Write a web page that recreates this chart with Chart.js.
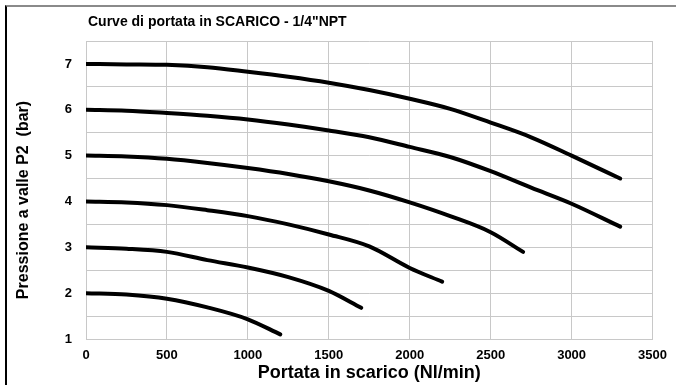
<!DOCTYPE html>
<html>
<head>
<meta charset="utf-8">
<script src="https://cdn.jsdelivr.net/npm/chart.js@4"></script>
<style>
  html, body { margin: 0; padding: 0; background: #fff; }
  #frame {
    position: absolute; left: 5px; top: 5px; width: 671px; height: 380px;
    border-top: 2px solid #8a8a8a; border-left: 2px solid #000; box-sizing: border-box;
  }
  #wrap { position: absolute; left: 0; top: 0; width: 676px; height: 385px; }
</style>
</head>
<body>
<div id="frame"></div>
<div id="wrap"><canvas id="myChart" width="676" height="385"></canvas></div>
<script>
// flow (Nl/min) and downstream pressure (bar) for each set pressure
const q7 = [0, 250, 500, 750, 1000, 1250, 1500, 1750, 2000, 2250, 2500, 2750, 3000, 3300];
const p7 = [7.0, 6.99, 6.98, 6.93, 6.83, 6.72, 6.59, 6.43, 6.24, 6.02, 5.72, 5.4, 5.0, 4.5];

const q6 = [0, 250, 500, 750, 1000, 1250, 1500, 1750, 2000, 2250, 2500, 2750, 3000, 3300];
const p6 = [6.0, 5.98, 5.93, 5.87, 5.79, 5.68, 5.55, 5.4, 5.19, 4.97, 4.66, 4.3, 3.95, 3.45];

const q5 = [0, 250, 500, 750, 1000, 1250, 1500, 1750, 2000, 2250, 2500, 2700];
const p5 = [5.0, 4.98, 4.93, 4.84, 4.73, 4.6, 4.44, 4.24, 3.98, 3.68, 3.33, 2.9];

const q4 = [0, 250, 500, 750, 1000, 1250, 1500, 1750, 2000, 2200];
const p4 = [4.0, 3.98, 3.92, 3.81, 3.68, 3.5, 3.28, 3.02, 2.55, 2.25];

const q3 = [0, 250, 500, 750, 1000, 1250, 1500, 1700];
const p3 = [3.0, 2.97, 2.9, 2.72, 2.56, 2.35, 2.05, 1.68];

const q2 = [0, 250, 500, 750, 1000, 1200];
const p2 = [2.0, 1.97, 1.88, 1.69, 1.43, 1.1];

const chartTitle = 'Curve di portata in SCARICO - 1/4"NPT';
const xTitle = 'Portata in scarico (Nl/min)';
const yTitle = 'Pressione a valle P2  (bar)';

const FONT = '"Liberation Sans", Arial, sans-serif';

function toPoints(qs, ps) {
    return qs.map((q, i) => ({ x: q, y: ps[i] }));
}

const curves = [[q7, p7], [q6, p6], [q5, p5], [q4, p4], [q3, p3], [q2, p2]];

// chart title at the left edge of the plot, y title rotated on the left
const textPlugin = {
    id: 'extraText',
    afterDraw(chart) {
        const c = chart.ctx;
        c.save();
        c.fillStyle = '#000';
        c.textBaseline = 'middle';
        c.font = 'bold 14px ' + FONT;
        c.fillText(chartTitle, chart.chartArea.left + 2, 22);
        c.translate(24, 200);
        c.rotate(-Math.PI / 2);
        c.textAlign = 'center';
        c.font = 'bold 16px ' + FONT;
        c.fillText(yTitle, 0, 0);
        c.restore();
    }
};

const ctx = document.getElementById('myChart').getContext('2d');
new Chart(ctx, {
    type: 'line',
    data: {
        datasets: curves.map(([q, p]) => ({
            data: toPoints(q, p),
            borderColor: '#000',
            borderWidth: 4,
            pointRadius: 0,
            fill: false,
            tension: 0.4,
            cubicInterpolationMode: 'monotone',
            borderCapStyle: 'round',
            borderJoinStyle: 'round'
        }))
    },
    options: {
        responsive: false,
        animation: false,
        layout: { padding: { left: 10, top: 41, right: 13, bottom: 0 } },
        plugins: {
            legend: { display: false },
            tooltip: { enabled: false }
        },
        scales: {
            x: {
                type: 'linear',
                min: 0,
                max: 3500,
                afterFit: s => { s.height = 46; },
                ticks: {
                    stepSize: 500,
                    padding: 9,
                    color: '#000',
                    maxRotation: 0,
                    font: { family: FONT, size: 13, weight: 'bold' },
                    callback: v => String(v)
                },
                grid: { color: '#c8c8c8', drawTicks: false },
                border: { color: '#c8c8c8' },
                title: {
                    display: true,
                    text: xTitle,
                    color: '#000',
                    padding: { top: 2, bottom: 1 },
                    font: { family: FONT, size: 18, weight: 'bold' }
                }
            },
            y: {
                min: 1,
                max: 7.5,
                afterFit: s => { s.width = 76; },
                ticks: {
                    stepSize: 0.5,
                    padding: 14,
                    color: '#000',
                    font: { family: FONT, size: 13, weight: 'bold' },
                    callback: v => Number.isInteger(v) ? v : ''
                },
                grid: { color: '#c8c8c8', drawTicks: false },
                border: { color: '#c8c8c8' }
            }
        }
    },
    plugins: [textPlugin]
});
</script>
</body>
</html>
